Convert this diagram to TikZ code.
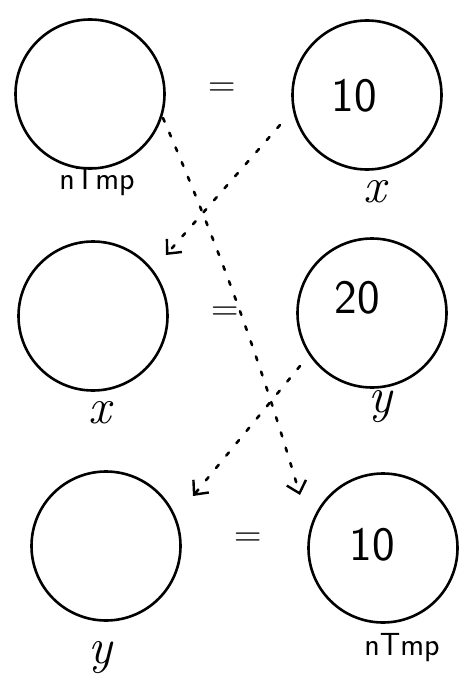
\documentclass[tikz,border=0pt]{standalone}
\usetikzlibrary{arrows.meta}
\begin{document}
\begin{tikzpicture}[x=1pt,y=-1pt,
  cell/.style={draw,line width=2.6pt,circle,minimum size=149pt,inner sep=0pt},
  val/.style={font=\sffamily\fontsize{48}{48}\selectfont},
  lbl/.style={font=\itshape\fontsize{50}{50}\selectfont},
  nm/.style={font=\sffamily\fontsize{32}{32}\selectfont},
  eq/.style={font=\fontsize{38}{38}\selectfont},
  mv/.style={line width=2.6pt,line cap=round,dash pattern=on 4pt off 12pt,-{Straight Barb[length=11pt,width=20pt,line width=2.4pt]}}]
\useasboundingbox (0,0) rectangle (476,693);
\node[cell] (c1) at (90,94) {};
\node[cell] (c2) at (367,95) {};
\node[cell] (c3) at (93,316) {};
\node[cell] (c4) at (372,313) {};
\node[cell] (c5) at (106,546) {};
\node[cell] (c6) at (383,548) {};
\node[val] (v2) at (354,96) {10};
\node[val] (v4) at (357,298) {20};
\node[val] (v6) at (372,545) {10};
\node[eq] (e1) at (222,90) {=};
\node[eq] (e2) at (225,314) {=};
\node[eq] (e3) at (248,540) {=};
\node[nm] (l1) at (97,182) {nTmp};
\node[lbl] (l2) at (375,192) {x};
\node[lbl] (l3) at (100,413) {x};
\node[lbl] (l4) at (380,407) {y};
\node[lbl] (l5) at (100,658) {y};
\node[nm] (l6) at (402,648) {nTmp};
\coordinate (s1) at (163,118);
\coordinate (t1) at (300,495);
\coordinate (s2) at (280,125);
\coordinate (t2) at (166,255);
\coordinate (s3) at (300,366);
\coordinate (t3) at (193,496);
\draw[mv] (s1) .. controls (220,250) and (260,360) .. (t1);
\draw[mv] (s2) -- (t2);
\draw[mv] (s3) -- (t3);
\end{tikzpicture}
\end{document}
